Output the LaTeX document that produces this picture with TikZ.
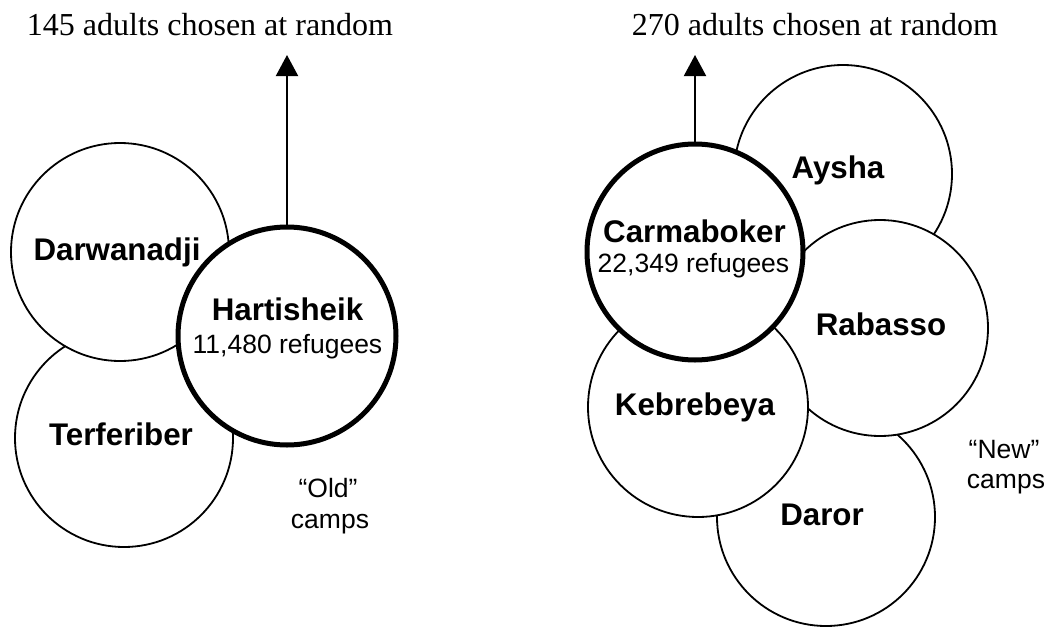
\documentclass[tikz,border=0pt]{standalone}
\usepackage{fontspec}
\setmainfont{Liberation Serif}
\newfontfamily\hv{Liberation Sans}
\usetikzlibrary{arrows.meta}
\begin{document}
\begin{tikzpicture}[x=1pt,y=-1pt,
  camp/.style={circle,draw,fill=white,line width=1.8pt,inner sep=0pt,minimum size=#1},
  maincamp/.style={camp=#1,line width=5pt},
  campname/.style={font=\hv\fontsize{31.3}{36}\selectfont\bfseries,anchor=base,inner sep=0pt},
  info/.style={font=\hv\fontsize{26.5}{30}\selectfont,anchor=base,inner sep=0pt},
  head/.style={font=\fontsize{32}{38}\selectfont,anchor=base,inner sep=0pt},
  arr/.style={line width=2pt,-{Triangle[length=21pt,width=22pt]}}]
\useasboundingbox (0,0) rectangle (1050,627);

% ---- left group ("Old" camps)
\node[camp=218pt] (terf) at (124,438) {};
\node[camp=218pt] (darw) at (120,252) {};
\node[maincamp=218pt] (hart) at (287,336) {};
\node[campname] (darwL) at (117,260) {Darwanadji};
\node[campname] (terfL) at (121,445) {Terferiber};
\node[campname] (hartL) at (287.5,320) {Hartisheik};
\node[info] (hartN) at (287.5,353) {11,480 refugees};
\node[info] (old1) at (328,497) {“Old”};
\node[info] (old2) at (330,528) {camps};
\coordinate (t1) at (287,55);
\draw[arr] (hart.north) -- (t1);
\node[head] (h1) at (210,35) {145 adults chosen at random};

% ---- right group ("New" camps)
\node[camp=218pt] (aysh) at (843,174) {};
\node[camp=218pt] (daro) at (826,517) {};
\node[camp=216pt] (raba) at (880,328) {};
\node[camp=220pt] (kebr) at (698,407) {};
\node[maincamp=216pt] (carm) at (695,252) {};
\node[campname] (ayshL) at (838,178) {Aysha};
\node[campname] (rabaL) at (881,335) {Rabasso};
\node[campname] (kebrL) at (695,415) {Kebrebeya};
\node[campname] (daroL) at (822,525) {Daror};
\node[campname] (carmL) at (694.5,242) {Carmaboker};
\node[info] (carmN) at (693.5,272) {22,349 refugees};
\node[info] (new1) at (1004,458) {“New”};
\node[info] (new2) at (1006,488) {camps};
\coordinate (t2) at (695,55);
\draw[arr] (carm.north) -- (t2);
\node[head] (h2) at (815,35) {270 adults chosen at random};
\end{tikzpicture}
\end{document}
